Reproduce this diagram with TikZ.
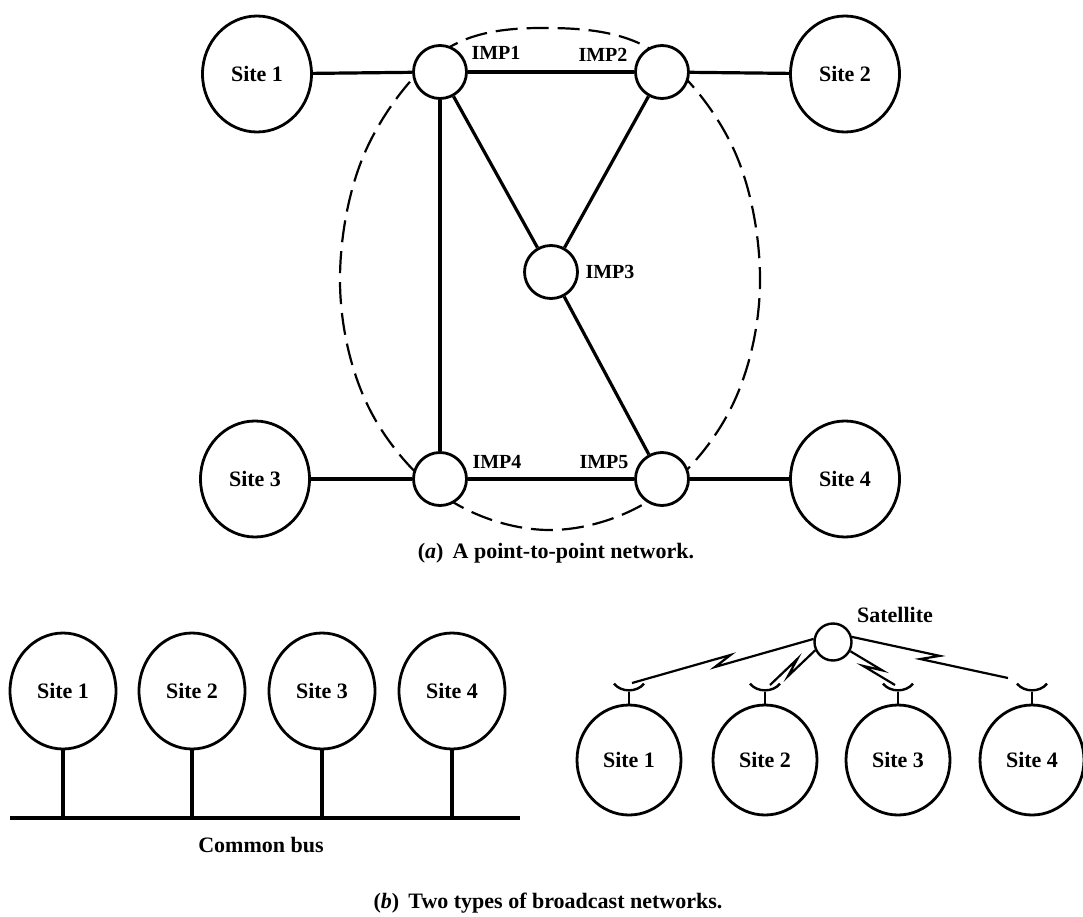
\documentclass[tikz,border=0pt]{standalone}
\usepackage{fontspec}
\setmainfont{Liberation Serif}
\usetikzlibrary{calc,shapes.geometric}
\begin{document}
\begin{tikzpicture}[x=1pt,y=-1pt,
  site/.style={ellipse,draw,line width=2.8pt,minimum width=109pt,minimum height=116pt,inner sep=0pt,font=\fontsize{22}{24}\selectfont\bfseries},
  bsite/.style={site,minimum width=106pt,minimum height=116pt},
  tsite/.style={site,minimum width=104pt,minimum height=110pt},
  imp/.style={circle,draw,fill=white,line width=2.8pt,minimum size=53pt,inner sep=0pt},
  sat/.style={circle,draw,line width=2.4pt,minimum size=37pt,inner sep=0pt},
  wire/.style={line width=3.2pt},
  zap/.style={line width=2.2pt,line join=miter},
  lbl/.style={font=\fontsize{20}{22}\selectfont\bfseries,inner sep=1pt},
  captext/.style={font=\fontsize{22}{24}\selectfont\bfseries,inner sep=1pt}]
\useasboundingbox (0,0) rectangle (1083,917);

% ---------- (a) point-to-point network ----------
% dashed boundary of the subnet (flatter at the top)
\draw[line width=2.2pt,dash pattern=on 22pt off 9pt]
  plot[smooth cycle,tension=0.6] coordinates {
    (550,28) (655,52) (734,150) (760,282) (732,406) (655,497)
    (550,530) (445,497) (368,406) (340,282) (366,150) (445,50)};

\node[site] (s1) at (257,74) {Site 1};
\node[site] (s2) at (845,74) {Site 2};
\node[site] (s3) at (255,479) {Site 3};
\node[site] (s4) at (845,479) {Site 4};

\node[imp] (i1) at (440,72) {};
\node[imp] (i2) at (662,72) {};
\node[imp] (i3) at (551,272) {};
\node[imp] (i4) at (440,479) {};
\node[imp] (i5) at (662,479) {};

\node[lbl] (l1) at (496,53) {IMP1};
\node[lbl] (l2) at (603,55) {IMP2};
\node[lbl] (l3) at (610,272) {IMP3};
\node[lbl] (l4) at (497,462) {IMP4};
\node[lbl] (l5) at (604,462) {IMP5};

\draw[wire] (s1) -- (i1);
\draw[wire] (i1) -- (i2);
\draw[wire] (i2) -- (s2);
\draw[wire] (i1) -- (i4);
\draw[wire] (i1) -- (i3);
\draw[wire] (i2) -- (i3);
\draw[wire] (i3) -- (i5);
\draw[wire] (s3) -- (i4);
\draw[wire] (i4) -- (i5);
\draw[wire] (i5) -- (s4);

\node[captext] (capa) at (556,553) {(\textit{a})\, A point-to-point network.};

% ---------- (b) bus network ----------
\node[bsite] (b1) at (63,691) {Site 1};
\node[bsite] (b2) at (192,691) {Site 2};
\node[bsite] (b3) at (322,691) {Site 3};
\node[bsite] (b4) at (452,691) {Site 4};
\coordinate (busl) at (10,818);
\coordinate (busr) at (520,818);
\draw[wire] (busl) -- (busr);
\foreach \k in {1,2,3,4}{
  \draw[wire] (b\k.south) -- (b\k.south |- busl);
}
\node[captext] (bus) at (261,845) {Common bus};

% ---------- (b) satellite network ----------
\node[sat] (sat) at (833,642) {};
\node[captext] (satl) at (895,615) {Satellite};

\node[tsite] (t1) at (629,760) {Site 1};
\node[tsite] (t2) at (765,760) {Site 2};
\node[tsite] (t3) at (898,760) {Site 3};
\node[tsite] (t4) at (1032,760) {Site 4};

% receiving dishes on top of each site
\foreach \k in {1,2,3,4}{
  \coordinate (d\k) at ($(t\k.north)+(0,-12)$);
  \draw[line width=2.4pt] (t\k.north) -- (d\k);
  \draw[line width=2.4pt] ($(d\k)+(-15,-8)$) .. controls ($(d\k)+(-8,1)$) and ($(d\k)+(8,1)$) .. ($(d\k)+(15,-8)$);
}
\coordinate (e1) at (632,683);
\coordinate (e2) at (770,685);
\coordinate (e3) at (895,685);
\coordinate (e4) at (1008,678);

% radio links with a lightning kink half way
\newcommand\zapwire[2]{%
  \draw[zap] (#1) -- ($(#1)!0.5!(#2)!9pt!(#2)!4pt!90:(#2)$)
    -- ($(#1)!0.5!(#2)!-9pt!(#2)!4pt!-90:(#2)$) -- (#2);}
\zapwire{sat.171}{e1}
\zapwire{sat.205}{e2}
\zapwire{sat.-28}{e3}
\zapwire{sat.15}{e4}

\node[captext] (capb) at (548,903) {(\textit{b})\, Two types of broadcast networks.};
\end{tikzpicture}
\end{document}
